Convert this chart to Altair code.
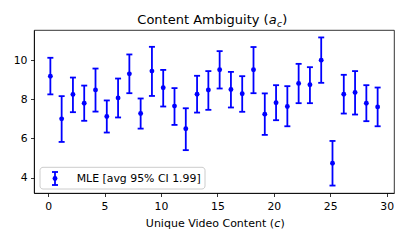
import altair as alt
import pandas as pd

# Data
content = list(range(30))
x_pos = [0.2, 1.2, 2.2, 3.2, 4.2, 5.2, 6.2, 7.2, 8.2, 9.2,
         10.2, 11.2, 12.2, 13.2, 14.2, 15.2, 16.2, 17.2, 18.2, 19.2,
         20.2, 21.2, 22.2, 23.2, 24.2, 25.2, 26.2, 27.2, 28.2, 29.2]
mle = [9.18, 7.00, 8.25, 7.80, 8.48, 7.12, 8.07, 9.30, 7.27, 9.44,
       8.59, 7.65, 6.49, 8.26, 8.47, 9.51, 8.50, 8.28, 9.51, 7.24,
       7.82, 7.63, 8.81, 8.74, 10.00, 4.73, 8.26, 8.35, 7.80, 7.61]
lower = [8.25, 5.82, 7.34, 6.90, 7.37, 6.30, 7.07, 8.31, 6.50, 8.17,
         7.63, 6.69, 5.40, 7.32, 7.46, 8.55, 7.58, 7.36, 8.31, 6.18,
         6.93, 6.62, 7.80, 7.80, 8.84, 3.59, 7.27, 7.22, 6.88, 6.62]
upper = [10.12, 8.16, 9.11, 8.70, 9.57, 7.94, 9.06, 10.29, 8.04, 10.68,
         9.50, 8.57, 7.54, 9.20, 9.44, 10.46, 9.40, 9.18, 10.67, 8.30,
         8.72, 8.67, 9.81, 9.64, 11.16, 5.87, 9.25, 9.44, 8.72, 8.60]
x_ticks = [0, 5, 10, 15, 20, 25, 30]
y_ticks = [4, 6, 8, 10]
legend_label = "MLE [avg 95% CI 1.99]"

df = pd.DataFrame({"c": content, "x": x_pos, "mle": mle, "lo": lower, "hi": upper})
one = pd.DataFrame({"k": [0]})

BLUE = "#0000ff"
FONT = "DejaVu Sans"
LW = 1.8

xs = alt.Scale(domain=[-1.25, 30.65], nice=False, zero=False)
ys = alt.Scale(domain=[3.21, 11.54], nice=False, zero=False)
x_axis = alt.Axis(values=x_ticks, title=None, grid=False, labelFlush=False)
y_axis = alt.Axis(values=y_ticks, title=None, grid=False, labelFlush=False)

base = alt.Chart(df)
rules = base.mark_rule(color=BLUE, strokeWidth=LW).encode(
    x=alt.X("x:Q", scale=xs, axis=x_axis),
    y=alt.Y("lo:Q", scale=ys, axis=y_axis),
    y2="hi:Q",
)
cap_lo = base.mark_tick(orient="horizontal", color=BLUE, size=6, thickness=LW, opacity=1).encode(
    x=alt.X("x:Q", scale=xs), y=alt.Y("lo:Q", scale=ys))
cap_hi = base.mark_tick(orient="horizontal", color=BLUE, size=6, thickness=LW, opacity=1).encode(
    x=alt.X("x:Q", scale=xs), y=alt.Y("hi:Q", scale=ys))
points = base.mark_circle(color=BLUE, size=24, opacity=1).encode(
    x=alt.X("x:Q", scale=xs), y=alt.Y("mle:Q", scale=ys))

def txt(text, x, y, size, align="left", italic=False):
    kw = dict(text=text, align=align, baseline="alphabetic", fontSize=size, font=FONT, color="black")
    if italic:
        kw["fontStyle"] = "italic"
    return alt.Chart(one).mark_text(**kw).encode(x=alt.value(x), y=alt.value(y))

# Title: Content Ambiguity (a_c)
t1 = txt("Content Ambiguity (", 234.7, -5.7, 13, align="right")
t2 = txt("a", 234.7, -5.7, 13, italic=True)
t3 = txt("c", 242.9, -2.6, 9, italic=True)
t4 = txt(")", 248.2, -5.7, 13)

# X label: Unique Video Content (c)
l1 = txt("Unique Video Content (", 240.0, 197.0, 11, align="right")
l2 = txt("c", 240.2, 197.0, 11, italic=True)
l3 = txt(")", 246.6, 197.0, 11)

# Legend
leg_box = alt.Chart(one).mark_rect(fill="white", fillOpacity=0.8, stroke="#cccccc",
                                   strokeWidth=1, cornerRadius=3).encode(
    x=alt.value(6), x2=alt.value(171), y=alt.value(137.3), y2=alt.value(159))
leg_rule = alt.Chart(one).mark_rule(color=BLUE, strokeWidth=LW).encode(
    x=alt.value(21), y=alt.value(142), y2=alt.value(155))
leg_cap1 = alt.Chart(one).mark_rule(color=BLUE, strokeWidth=LW).encode(
    x=alt.value(18), x2=alt.value(24), y=alt.value(142))
leg_cap2 = alt.Chart(one).mark_rule(color=BLUE, strokeWidth=LW).encode(
    x=alt.value(18), x2=alt.value(24), y=alt.value(155))
leg_dot = alt.Chart(one).mark_circle(color=BLUE, size=24, opacity=1).encode(
    x=alt.value(21), y=alt.value(148.5))
leg_text = txt(legend_label, 42.7, 152.0, 10.9)

chart = alt.layer(
    rules, cap_lo, cap_hi, points,
    t1, t2, t3, t4, l1, l2, l3,
    leg_box, leg_rule, leg_cap1, leg_cap2, leg_dot, leg_text,
).properties(
    width=360, height=163,
    autosize=alt.AutoSizeParams(type="none"),
    padding={"left": 26, "top": 22, "right": 5, "bottom": 40},
).configure_view(
    stroke="black", strokeWidth=0.8
).configure_axis(
    domainColor="black", domainWidth=0.8, tickColor="black", tickWidth=0.8,
    tickSize=3.5, labelColor="black", labelFont=FONT, labelFontSize=10.8,
    labelPadding=3.5, grid=False, labelOverlap=False,
)

chart.save("out.html", embed_options={"renderer": "svg", "actions": False})
